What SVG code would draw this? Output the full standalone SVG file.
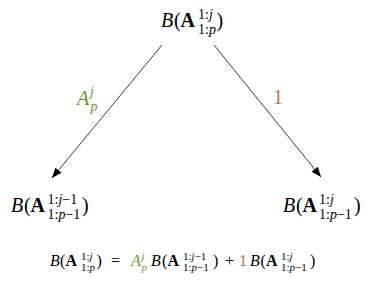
<svg xmlns="http://www.w3.org/2000/svg" width="374" height="281" viewBox="0 0 374 281">
<style>
text{font-family:'Liberation Serif','Times New Roman',serif;fill:#000}
.m{font-size:20px}
.s{font-size:14px}
.fm{font-size:16px}
.fs{font-size:11px}
.i{font-style:italic}
.b{font-weight:bold}
.g{fill:#5f9a2e}
.br{fill:#a67c52}
.edge{stroke:#222;stroke-width:0.9;fill:none}
</style>
<defs>
<marker id="ah" viewBox="0 0 10 8" refX="10" refY="4" markerWidth="11" markerHeight="8" markerUnits="userSpaceOnUse" orient="auto">
<path d="M0,0 L10,4 L0,8 Z" fill="#000"/>
</marker>
</defs>
<g id="connectors">
<line class="edge" x1="162" y1="45" x2="52" y2="178" marker-end="url(#ah)"/>
<line class="edge" x1="214" y1="45" x2="321" y2="177" marker-end="url(#ah)"/>
<text class="m i g"><tspan x="77" y="105">A</tspan><tspan class="s" x="90" y="96">j</tspan><tspan class="s" x="90.5" y="111">p</tspan></text>
<text class="m br" x="273" y="104">1</text>
</g>
<g id="node-top">
<text class="m"><tspan class="i" x="161" y="27">B</tspan><tspan x="174" y="27">(</tspan><tspan class="b" x="180.5" y="27">A</tspan><tspan class="s" x="198" y="19">1:<tspan class="i">j</tspan></tspan><tspan class="s" x="198" y="34">1:<tspan class="i">p</tspan></tspan><tspan x="216.5" y="27">)</tspan></text>
</g>
<g id="node-left">
<text class="m"><tspan class="i" x="11" y="212">B</tspan><tspan x="24" y="212">(</tspan><tspan class="b" x="30.5" y="212">A</tspan><tspan class="s" x="47.5" y="204">1:<tspan class="i">j</tspan>−1</tspan><tspan class="s" x="47.5" y="219">1:<tspan class="i">p</tspan>−1</tspan><tspan x="82" y="212">)</tspan></text>
</g>
<g id="node-right">
<text class="m"><tspan class="i" x="283" y="212">B</tspan><tspan x="296" y="212">(</tspan><tspan class="b" x="302.5" y="212">A</tspan><tspan class="s" x="319" y="204">1:<tspan class="i">j</tspan></tspan><tspan class="s" x="319" y="219">1:<tspan class="i">p</tspan>−1</tspan><tspan x="354" y="212">)</tspan></text>
</g>
<g id="formula">
<text class="fm"><tspan class="i" x="50" y="266">B</tspan><tspan x="60" y="266">(</tspan><tspan class="b" x="65.5" y="266">A</tspan><tspan class="fs" x="81" y="260">1:<tspan class="i">j</tspan></tspan><tspan class="fs" x="81" y="271">1:<tspan class="i">p</tspan></tspan><tspan x="96.5" y="266">)</tspan><tspan x="111" y="266">=</tspan><tspan class="i g" x="131" y="266">A</tspan><tspan class="fs i g" x="141.5" y="260">j</tspan><tspan class="fs i g" x="141.5" y="271">p</tspan><tspan class="i" x="151" y="266">B</tspan><tspan x="162" y="266">(</tspan><tspan class="b" x="167.5" y="266">A</tspan><tspan class="fs" x="183" y="260">1:<tspan class="i">j</tspan>−1</tspan><tspan class="fs" x="183" y="271">1:<tspan class="i">p</tspan>−1</tspan><tspan x="213" y="266">)</tspan><tspan x="225" y="266">+</tspan><tspan class="br" x="239" y="266">1</tspan><tspan class="i" x="250" y="266">B</tspan><tspan x="260.5" y="266">(</tspan><tspan class="b" x="266" y="266">A</tspan><tspan class="fs" x="281" y="260">1:<tspan class="i">j</tspan></tspan><tspan class="fs" x="281" y="271">1:<tspan class="i">p</tspan>−1</tspan><tspan x="310" y="266">)</tspan></text>
</g>
</svg>
